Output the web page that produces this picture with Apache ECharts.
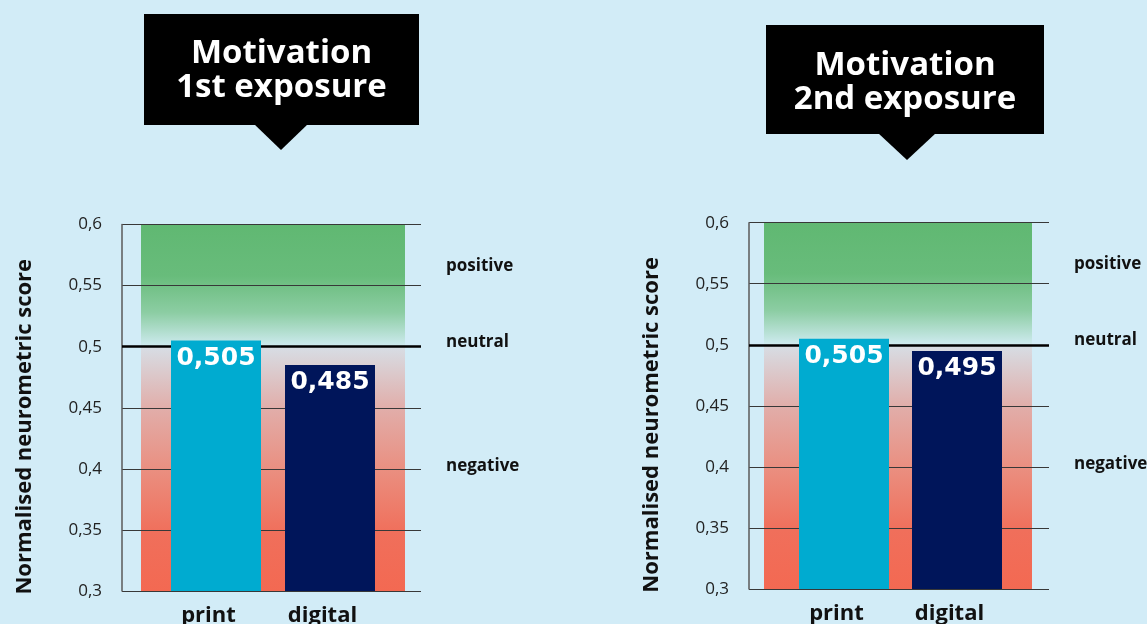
<!DOCTYPE html>
<html>
<head>
<meta charset="utf-8">
<script src="https://cdn.jsdelivr.net/npm/echarts@6/dist/echarts.min.js"></script>
<style>
  html, body { margin: 0; padding: 0; background: #d2ecf7; }
  #chart { width: 1147px; height: 624px; }
</style>
</head>
<body>
<div id="chart"></div>
<script>
// ---- data ----
const categories = ['print', 'digital'];
const firstExposure = [0.505, 0.485];
const secondExposure = [0.505, 0.495];
const panelTitles = ['Motivation\n1st exposure', 'Motivation\n2nd exposure'];
const scoreMin = 0.3;
const scoreMax = 0.6;
const scoreStep = 0.05;
const neutralScore = 0.5;
const zoneNames = ['positive', 'neutral', 'negative'];
const zoneScores = [0.566, 0.504, 0.402];
const axisTitle = 'Normalised neurometric score';

// ---- styling ----
const BG = '#d2ecf7';
const barColors = ['#00abd0', '#00155a'];
const UI_FONT = '"Open Sans", "Liberation Sans", sans-serif';
const VALUE_FONT = '"DejaVu Sans", sans-serif';

// green (above neutral) fading out, then grey-pink deepening to red (below)
const zoneGradient = {
  type: 'linear', x: 0, y: 0, x2: 0, y2: 1,
  colorStops: [
    { offset: 0.00, color: '#60b872' },
    { offset: 0.14, color: '#68bc7b' },
    { offset: 0.24, color: '#8ccda3' },
    { offset: 0.330, color: '#cdeaee' },
    { offset: 0.336, color: '#d7dde4' },
    { offset: 0.50, color: '#e1aeaa' },
    { offset: 0.67, color: '#ea8f80' },
    { offset: 0.84, color: '#f06f5b' },
    { offset: 1.00, color: '#f36952' }
  ]
};

// per-panel layout
const panels = [
  {
    values: firstExposure, title: panelTitles[0],
    frame: { left: 122, top: 224.5, width: 299, height: 366.5 },
    band: { left: 141, width: 264 },
    bars: { left: 159, width: 228 },
    callout: { x: 144, y: 14, w: 275, h: 111, tipX: 281, tipY: 150, half: 27 },
    titleTop: 37
  },
  {
    values: secondExposure, title: panelTitles[1],
    frame: { left: 749, top: 222.7, width: 300, height: 366.3 },
    band: { left: 764, width: 268 },
    bars: { left: 787.5, width: 226 },
    callout: { x: 766, y: 25, w: 278, h: 109, tipX: 907, tipY: 160, half: 29 },
    titleTop: 49
  }
];

const fmtScore = v => String(+v.toFixed(3)).replace('.', ',');

const grid = [], xAxis = [], yAxis = [], series = [], title = [], graphic = [];

panels.forEach((p, i) => {
  const f = p.frame;
  const gi = grid.length;
  const xi = xAxis.length;
  const yi = yAxis.length;
  const fixed = { outerBoundsMode: 'none', containLabel: false };

  // frame grid: axis line, split lines, tick labels, zone labels
  grid.push({ ...fixed, left: f.left, top: f.top, width: f.width, height: f.height });
  // zone band behind
  grid.push({ ...fixed, left: p.band.left, top: f.top, width: p.band.width, height: f.height,
              show: true, borderWidth: 0, backgroundColor: zoneGradient });
  // bar grid
  grid.push({ ...fixed, left: p.bars.left, top: f.top, width: p.bars.width, height: f.height });

  xAxis.push({ gridIndex: gi, type: 'value', min: 0, max: 1, show: false });
  xAxis.push({ gridIndex: gi + 1, type: 'value', min: 0, max: 1, show: false });
  xAxis.push({
    gridIndex: gi + 2, type: 'category', data: categories,
    axisLine: { show: false }, axisTick: { show: false },
    axisLabel: { fontFamily: UI_FONT, fontWeight: 'bold', fontSize: 22, color: '#111',
                 margin: 14, padding: [0, 15, 0, 0] }
  });

  yAxis.push({
    gridIndex: gi, type: 'value', min: scoreMin, max: scoreMax, interval: scoreStep, z: 1,
    axisLine: { show: true, lineStyle: { color: '#5a5a5a', width: 1.5 } },
    axisTick: { show: false },
    splitLine: { show: true, lineStyle: { color: '#383838', width: 1 } },
    axisLabel: { formatter: fmtScore, fontFamily: UI_FONT, fontSize: 17, color: '#222', margin: 20 },
    name: axisTitle, nameLocation: 'middle', nameGap: 86,
    nameTextStyle: { fontFamily: UI_FONT, fontWeight: 'bold', fontSize: 22, color: '#111',
                     padding: [0, 38, 0, 0] }
  });
  yAxis.push({
    gridIndex: gi, type: 'value', position: 'right', min: scoreMin, max: scoreMax,
    axisLine: { show: false }, axisTick: { show: false }, splitLine: { show: false },
    axisLabel: {
      customValues: zoneScores,
      formatter: v => {
        let best = 0;
        zoneScores.forEach((s, k) => { if (Math.abs(s - v) < Math.abs(zoneScores[best] - v)) best = k; });
        return zoneNames[best];
      },
      fontFamily: UI_FONT, fontWeight: 'bold', fontSize: 17, color: '#111', margin: 25, align: 'left'
    }
  });
  yAxis.push({ gridIndex: gi + 1, type: 'value', min: scoreMin, max: scoreMax, show: false });
  yAxis.push({ gridIndex: gi + 2, type: 'value', min: scoreMin, max: scoreMax, show: false });

  // neutral reference line
  series.push({
    type: 'line', xAxisIndex: xi, yAxisIndex: yi, data: [], silent: true, z: 1,
    markLine: {
      silent: true, symbol: ['none', 'none'], label: { show: false },
      lineStyle: { color: '#000', width: 2.5, type: 'solid' },
      data: [{ yAxis: neutralScore }]
    }
  });

  // bars
  series.push({
    type: 'bar', xAxisIndex: xi + 2, yAxisIndex: yi + 3, barWidth: 90, z: 5,
    data: p.values.map((v, k) => ({ value: v, itemStyle: { color: barColors[k] } })),
    label: {
      show: true, position: 'insideTop', distance: 5,
      formatter: d => fmtScore(d.value),
      color: '#fff', fontFamily: VALUE_FONT, fontWeight: 'bold', fontSize: 25
    }
  });

  // callout box with pointer
  const c = p.callout;
  graphic.push({
    type: 'rect', z: 0, shape: { x: c.x, y: c.y, width: c.w, height: c.h },
    style: { fill: '#000' }
  });
  graphic.push({
    type: 'polygon', z: 0,
    shape: { points: [[c.tipX - c.half, c.y + c.h - 1], [c.tipX + c.half, c.y + c.h - 1], [c.tipX, c.tipY]] },
    style: { fill: '#000' }
  });
  title.push({
    text: p.title, left: c.x + c.w / 2, top: p.titleTop, textAlign: 'center', padding: 0,
    textStyle: { color: '#fff', fontFamily: UI_FONT, fontWeight: 'bold', fontSize: 33, lineHeight: 34 }
  });
});

const chart = echarts.init(document.getElementById('chart'), null, { renderer: 'canvas' });
chart.setOption({
  backgroundColor: BG,
  animation: false,
  title, grid, xAxis, yAxis, series, graphic
});
</script>
</body>
</html>
